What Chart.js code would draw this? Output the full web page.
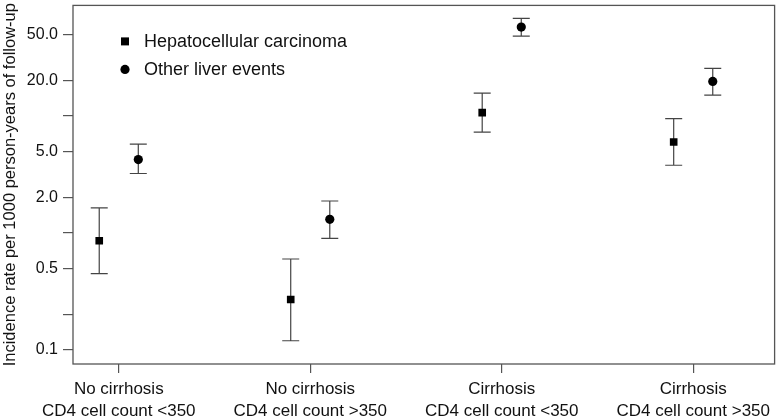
<!DOCTYPE html>
<html>
<head>
<meta charset="utf-8">
<script src="https://cdn.jsdelivr.net/npm/chart.js@4.4.1/dist/chart.umd.min.js"></script>
<style>
  body { margin: 0; background: #fff; }
  canvas { display: block; }
</style>
</head>
<body>
<canvas id="rateChart" width="780" height="420"></canvas>
<script>
const categories = [
    ['No cirrhosis', 'CD4 cell count <350'],
    ['No cirrhosis', 'CD4 cell count >350'],
    ['Cirrhosis', 'CD4 cell count <350'],
    ['Cirrhosis', 'CD4 cell count >350']
];
const seriesNames = ['Hepatocellular carcinoma', 'Other liver events'];

// incidence per 1000 person-years, with lower / upper CI
const hccRate = [0.86, 0.27, 10.7, 6.0];
const hccLower = [0.45, 0.12, 7.3, 3.8];
const hccUpper = [1.64, 0.60, 15.7, 9.5];

const otherRate = [4.25, 1.31, 57.7, 19.8];
const otherLower = [3.23, 0.90, 48.3, 15.1];
const otherUpper = [5.75, 1.88, 68.4, 25.6];

const yTicks = [0.1, 0.2, 0.5, 1, 2, 5, 10, 20, 50];
const yTickLabels = ['0.1', '', '0.5', '', '2.0', '5.0', '', '20.0', '50.0'];

const FONT = "'Liberation Sans', Arial, sans-serif";
const INK = '#111';
const LINE = '#555';
const DODGE = 0.102;

function makePoints(rates, lo, hi, shift) {
    return rates.map((r, i) => ({ x: i + 1 + shift, y: r, lo: lo[i], hi: hi[i] }));
}

const errorBars = {
    id: 'errorBars',
    beforeDatasetsDraw(chart) {
        const { ctx, scales: { x, y } } = chart;
        ctx.save();
        ctx.strokeStyle = '#444';
        ctx.lineWidth = 1.2;
        chart.data.datasets.forEach(ds => {
            ds.data.forEach(p => {
                const px = x.getPixelForValue(p.x);
                const top = y.getPixelForValue(p.hi);
                const bot = y.getPixelForValue(p.lo);
                ctx.beginPath();
                ctx.moveTo(px, top);
                ctx.lineTo(px, bot);
                ctx.moveTo(px - 8.5, top);
                ctx.lineTo(px + 8.5, top);
                ctx.moveTo(px - 8.5, bot);
                ctx.lineTo(px + 8.5, bot);
                ctx.stroke();
            });
        });
        ctx.restore();
    }
};

const frameAndLegend = {
    id: 'frameAndLegend',
    afterDraw(chart) {
        const { ctx, chartArea: a } = chart;
        ctx.save();
        ctx.strokeStyle = LINE;
        ctx.lineWidth = 1.3;
        ctx.strokeRect(a.left, a.top, a.right - a.left, a.bottom - a.top);

        const mx = a.left + 52;
        const tx = a.left + 71;
        const rows = [a.top + 36, a.top + 64];
        ctx.fillStyle = '#000';
        ctx.fillRect(mx - 4, rows[0] - 4, 8, 8);
        ctx.beginPath();
        ctx.arc(mx, rows[1], 4.6, 0, Math.PI * 2);
        ctx.fill();
        ctx.fillStyle = INK;
        ctx.font = '18px ' + FONT;
        ctx.textBaseline = 'middle';
        ctx.textAlign = 'left';
        seriesNames.forEach((name, i) => ctx.fillText(name, tx, rows[i] + 1));
        ctx.restore();
    }
};

new Chart(document.getElementById('rateChart'), {
    type: 'scatter',
    data: {
        datasets: [{
            label: seriesNames[0],
            data: makePoints(hccRate, hccLower, hccUpper, -DODGE),
            pointStyle: 'rect',
            pointRadius: 5.4,
            backgroundColor: '#000',
            borderColor: '#000',
            borderWidth: 0
        }, {
            label: seriesNames[1],
            data: makePoints(otherRate, otherLower, otherUpper, DODGE),
            pointStyle: 'circle',
            pointRadius: 4.6,
            backgroundColor: '#000',
            borderColor: '#000',
            borderWidth: 0
        }]
    },
    options: {
        responsive: false,
        animation: false,
        layout: { padding: { top: 5, right: 5, left: 0, bottom: 0 } },
        plugins: {
            legend: { display: false },
            tooltip: { enabled: false }
        },
        scales: {
            x: {
                type: 'linear',
                min: 0.761,
                max: 4.425,
                afterFit(scale) {
                    scale.height = 56;
                    scale.paddingLeft = 0;
                    scale.paddingRight = 0;
                },
                afterBuildTicks(scale) {
                    scale.ticks = categories.map((c, i) => ({ value: i + 1 }));
                },
                border: { display: false },
                grid: {
                    drawOnChartArea: false,
                    tickLength: 9,
                    color: LINE,
                    lineWidth: 1.2
                },
                ticks: {
                    autoSkip: false,
                    maxRotation: 0,
                    padding: 6,
                    color: INK,
                    font: { family: FONT, size: 17, lineHeight: 1.25 },
                    callback: (v, i) => categories[i]
                }
            },
            y: {
                type: 'logarithmic',
                min: 0.0759,
                max: 88.4,
                afterFit(scale) {
                    scale.width = 73;
                    scale.paddingTop = 0;
                    scale.paddingBottom = 0;
                },
                afterBuildTicks(scale) {
                    scale.ticks = yTicks.map(v => ({ value: v }));
                },
                border: { display: false },
                grid: {
                    drawOnChartArea: false,
                    tickLength: 10,
                    color: LINE,
                    lineWidth: 1.2
                },
                ticks: {
                    autoSkip: false,
                    padding: 5,
                    color: INK,
                    font: { family: FONT, size: 16 },
                    callback: (v, i) => yTickLabels[i]
                },
                title: {
                    display: true,
                    text: 'Incidence rate per 1000 person-years of follow-up',
                    color: INK,
                    font: { family: FONT, size: 16.5 },
                    padding: { top: 1, bottom: 0 }
                }
            }
        }
    },
    plugins: [errorBars, frameAndLegend]
});
</script>
</body>
</html>
